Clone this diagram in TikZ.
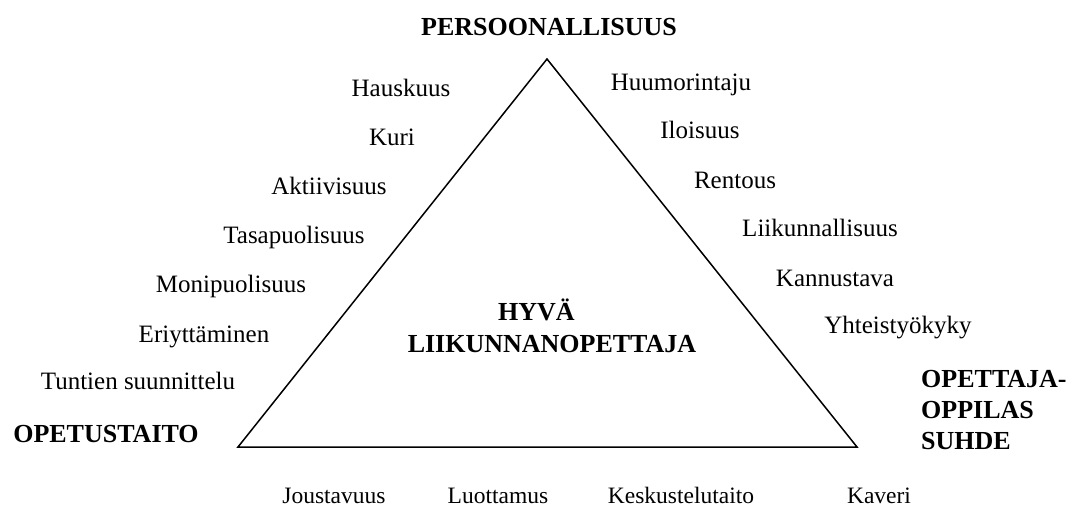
\documentclass[tikz,border=0pt]{standalone}
\usepackage{fontspec}
\setmainfont{Liberation Serif}
\begin{document}
\begin{tikzpicture}[x=1pt,y=-1pt,
  lbl/.style={anchor=base,inner sep=0pt,font=\fontsize{25}{30}\selectfont},
  lblsmall/.style={anchor=base,inner sep=0pt,font=\fontsize{23.5}{28}\selectfont},
  head/.style={anchor=base,inner sep=0pt,font=\fontsize{26}{30}\selectfont\bfseries},
  edge/.style={draw=black,line width=1.5pt,line join=miter}]
\useasboundingbox (0,0) rectangle (1080,511);
% triangle
\coordinate (apex) at (547,59);
\coordinate (bl) at (238,447);
\coordinate (br) at (857,447);
\draw[edge] (apex) -- (bl) -- (br) -- cycle;
% headings
\node[head] (pers) at (549,36) {PERSOONALLISUUS};
\node[head] (opet) at (106,442) {OPETUSTAITO};
\node[head,anchor=base west] (suh1) at (921,387) {OPETTAJA-};
\node[head,anchor=base west] (suh2) at (921,418) {OPPILAS};
\node[head,anchor=base west] (suh3) at (921,449) {SUHDE};
\node[head,anchor=base west] (hyva) at (498,320) {HYVÄ};
\node[head] (liik) at (552,352) {LIIKUNNANOPETTAJA};
% left side
\node[lbl] (l1) at (401,96) {Hauskuus};
\node[lbl] (l2) at (392,145) {Kuri};
\node[lbl] (l3) at (329,194) {Aktiivisuus};
\node[lbl] (l4) at (294,243) {Tasapuolisuus};
\node[lbl] (l5) at (231,292) {Monipuolisuus};
\node[lbl] (l6) at (204,342) {Eriyttäminen};
\node[lbl] (l7) at (138,389) {Tuntien suunnittelu};
% right side
\node[lbl] (r1) at (681,91) {Huumorintaju};
\node[lbl] (r2) at (700,139) {Iloisuus};
\node[lbl] (r3) at (735,188) {Rentous};
\node[lbl] (r4) at (820,236) {Liikunnallisuus};
\node[lbl] (r5) at (835,286) {Kannustava};
\node[lbl] (r6) at (898,333) {Yhteistyökyky};
% bottom
\node[lblsmall] (b1) at (334,503) {Joustavuus};
\node[lblsmall] (b2) at (498,503) {Luottamus};
\node[lblsmall] (b3) at (681,503) {Keskustelutaito};
\node[lblsmall] (b4) at (879,503) {Kaveri};
\end{tikzpicture}
\end{document}
